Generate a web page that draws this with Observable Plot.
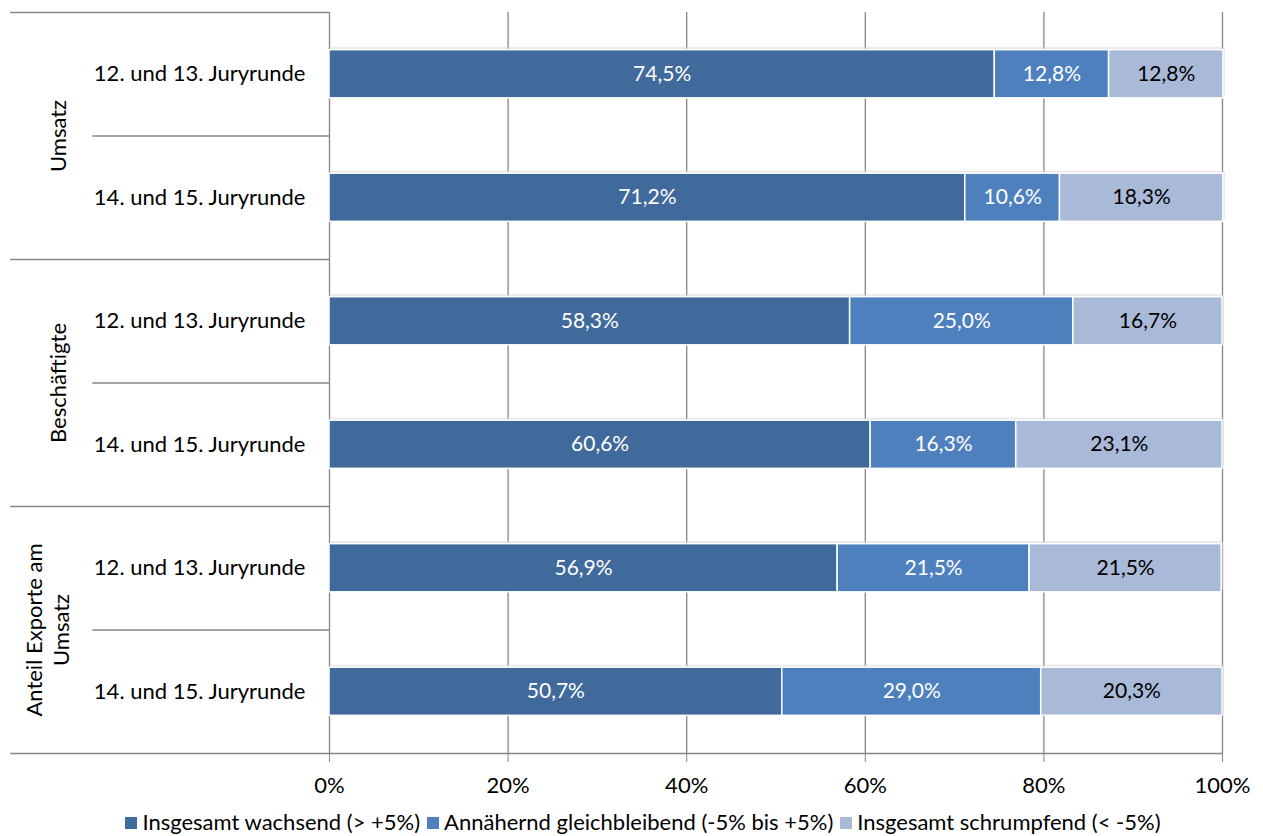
<!DOCTYPE html>
<html><head><meta charset="utf-8">
<script src="https://cdn.jsdelivr.net/npm/d3@7"></script>
<script src="https://cdn.jsdelivr.net/npm/@observablehq/plot@0.6"></script>
<style>
body{margin:0;background:#fff;font-family:Lato,"Open Sans",sans-serif;}
#wrap{position:relative;width:1263px;height:836px;}
#legend{position:absolute;top:808px;left:0;width:1286px;display:flex;justify-content:center;gap:7px;font-size:22px;line-height:27px;color:#000;white-space:nowrap;}
#legend span.sw{display:inline-block;width:12px;height:12px;margin-right:5px;vertical-align:1px;}
</style>
</head><body>
<div id="wrap"><div id="chart"></div><div id="legend"></div></div>
<script>
const groups = ["Umsatz", "Beschäftigte", "Anteil Exporte am\nUmsatz"];
const rounds = ["12. und 13. Juryrunde", "14. und 15. Juryrunde"];
const series = ["Insgesamt wachsend (> +5%)", "Annähernd gleichbleibend (-5% bis +5%)", "Insgesamt schrumpfend (< -5%)"];
const wachsend = [74.5, 71.2, 58.3, 60.6, 56.9, 50.7];
const gleichbleibend = [12.8, 10.6, 25.0, 16.3, 21.5, 29.0];
const schrumpfend = [12.8, 18.3, 16.7, 23.1, 21.5, 20.3];
const xTicks = [0, 20, 40, 60, 80, 100];
const colors = ["#3F6A9B", "#4E80BE", "#A9B9D8"];
const labelColors = ["#ffffff", "#ffffff", "#000000"];

const rows = [];
groups.forEach((g, gi) => rounds.forEach((r, ri) => rows.push({group: g, round: r, idx: gi * 2 + ri})));
const values = [wachsend, gleichbleibend, schrumpfend];
const segs = [];
rows.forEach((row, i) => {
  let acc = 0;
  values.forEach((arr, s) => {
    const v = arr[i];
    segs.push({idx: row.idx, series: series[s], s, x1: acc, x2: acc + v, v});
    acc += v;
  });
});
const fmt = v => v.toFixed(1).replace(".", ",") + "%";
const halfBar = 0.195;
const groupEdges = groups.map((g, gi) => gi * 2 - 0.5).concat([groups.length * 2 - 0.5]);
const innerEdges = groups.map((g, gi) => gi * 2 + 0.5);
const groupLabels = groups.map((g, gi) => ({label: g, y: gi * 2 + 0.5, multi: g.includes("\n")}));

const chart = Plot.plot({
  width: 1263,
  height: 805,
  marginLeft: 329,
  marginRight: 41,
  marginTop: 12,
  marginBottom: 52,
  style: {fontFamily: "Lato, 'Open Sans', sans-serif", fontSize: "22px", color: "#000", background: "#fff"},
  x: {domain: [0, 100]},
  y: {domain: [-0.5, 5.5], reverse: true, axis: null},
  color: {domain: series, range: colors},
  marks: [
    Plot.gridX(xTicks, {stroke: "#868686", strokeOpacity: 1, strokeWidth: 1.3}),
    Plot.ruleY(groupEdges, {x1: -35.7, x2: 0, stroke: "#868686", strokeWidth: 1.3}),
    Plot.ruleY(innerEdges, {x1: -26.5, x2: 0, stroke: "#868686", strokeWidth: 1.3}),
    Plot.ruleY([5.5], {x1: 0, x2: 100, stroke: "#868686", strokeWidth: 1.3}),
    Plot.rectX(segs, {x1: "x1", x2: "x2", y1: d => d.idx - halfBar - 0.02, y2: d => d.idx + halfBar - 0.02, dx: 2, fill: "#d9d9d9", fillOpacity: 0.6}),
    Plot.rectX(segs, {x1: "x1", x2: "x2", y1: d => d.idx - halfBar, y2: d => d.idx + halfBar, fill: "series", stroke: "#fff", strokeWidth: 1.5}),
    Plot.text(segs, {x: d => (d.x1 + d.x2) / 2, y: "idx", text: d => fmt(d.v), fill: d => labelColors[d.s], fontSize: 21}),
    Plot.text(rows, {x: 0, y: "idx", text: "round", textAnchor: "end", dx: -24, fontSize: 22}),
    Plot.text(groupLabels.filter(d => !d.multi), {x: -30.3, y: "y", text: "label", rotate: -90, fontSize: 22}),
    Plot.text(groupLabels.filter(d => d.multi), {x: -30.3, y: "y", text: "label", rotate: -90, fontSize: 22, dx: -12, lineHeight: 1.23}),
    Plot.axisX(xTicks, {tickFormat: d => d + "%", tickSize: 9, tickPadding: 15, stroke: "#868686", fontSize: 22, color: "#000"})
  ]
});
document.getElementById("chart").appendChild(chart);

const legend = document.getElementById("legend");
series.forEach((s, i) => {
  const item = document.createElement("div");
  item.innerHTML = `<span class="sw" style="background:${colors[i]}"></span>${s}`;
  legend.appendChild(item);
});
</script>
</body></html>
